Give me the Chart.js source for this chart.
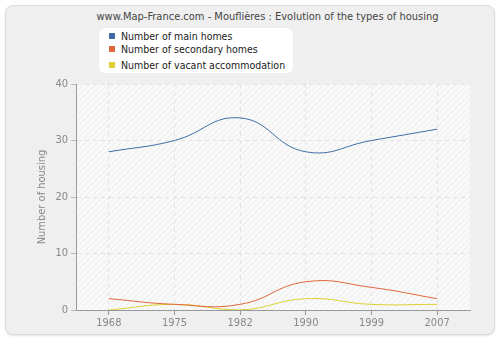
<!DOCTYPE html>
<html>
<head>
<meta charset="utf-8">
<script src="https://cdn.jsdelivr.net/npm/chart.js@4/dist/chart.umd.min.js"></script>
<style>
    body { margin: 0; background: #fff; }
    #wrap { position: relative; width: 500px; height: 340px; font-family: "DejaVu Sans Condensed", "DejaVu Sans", sans-serif; }
    #panel { position: absolute; left: 5px; top: 5px; width: 488px; height: 328px; background: #efefef; border: 1px solid #dcdcdc; border-radius: 8px; box-shadow: 0 1px 2px #e4e4e4; }
    #title { position: absolute; left: 0; width: 535px; top: 10px; text-align: center; font-size: 11px; color: #444; }
    #legend { position: absolute; left: 99px; top: 28px; width: 194px; height: 45px; background: #fff; border-radius: 6px; font-size: 10.5px; color: #222; }
    #legend div { position: absolute; left: 10px; white-space: nowrap; }
    #legend span { display: inline-block; width: 6px; height: 6px; margin-right: 6px; vertical-align: 1px; }
    #trackingCanvas { position: absolute; left: 0; top: 0; }
</style>
</head>
<body>
<div id="wrap">
    <div id="panel"></div>
    <div id="title">www.Map-France.com - Mouflières : Evolution of the types of housing</div>
    <div id="legend"></div>
    <canvas id="trackingCanvas" width="500" height="340"></canvas>
</div>
<script>
const years = ['1968', '1975', '1982', '1990', '1999', '2007'];
const mainHomes = [28, 30, 34, 28, 30, 32];
const secondaryHomes = [2, 1, 1, 5, 4, 2];
const vacantHomes = [0, 1, 0, 2, 1, 1];
const yTicks = [0, 10, 20, 30, 40];

const canvas = document.getElementById('trackingCanvas');
const legendBox = document.getElementById('legend');

const series = [
    {label: 'Number of main homes', color: '#3e6da6', data: mainHomes},
    {label: 'Number of secondary homes', color: '#e0673a', data: secondaryHomes},
    {label: 'Number of vacant accommodation', color: '#ddd032', data: vacantHomes}
];

const legendTops = [2, 15, 31];
series.forEach((s, i) => {
    const row = document.createElement('div');
    row.style.top = legendTops[i] + 'px';
    row.innerHTML = '<span style="background:' + s.color + '"></span>' + s.label;
    legendBox.appendChild(row);
});

// hatched plot background
const makeHatch = () => {
    const p = document.createElement('canvas');
    p.width = 6;
    p.height = 6;
    const c = p.getContext('2d');
    c.fillStyle = '#f9f9f9';
    c.fillRect(0, 0, 6, 6);
    c.strokeStyle = '#ececec';
    c.lineWidth = 1;
    c.beginPath();
    c.moveTo(0, 6); c.lineTo(6, 0);
    c.moveTo(-1, 1); c.lineTo(1, -1);
    c.moveTo(5, 7); c.lineTo(7, 5);
    c.stroke();
    return canvas.getContext('2d').createPattern(p, 'repeat');
};

const plotBackground = {
    id: 'plotBackground',
    beforeDraw: (chart) => {
        const {ctx, chartArea} = chart;
        ctx.save();
        ctx.fillStyle = makeHatch();
        ctx.fillRect(chartArea.left, chartArea.top, chartArea.right - chartArea.left, chartArea.bottom - chartArea.top);
        ctx.restore();
    }
};

const data = {
    labels: years,
    datasets: series.map((s) => ({
        label: s.label,
        data: s.data,
        borderColor: s.color,
        backgroundColor: s.color,
        borderWidth: 1,
        pointRadius: 0,
        tension: 0.45,
        fill: false
    }))
};

const tickFont = {family: 'DejaVu Sans Condensed', size: 11};

const config = {
    type: 'line',
    data,
    options: {
        responsive: false,
        animation: false,
        layout: {padding: {top: 84, right: 30, bottom: 4, left: 36}},
        plugins: {
            legend: {display: false},
            title: {display: false},
            tooltip: {enabled: false}
        },
        scales: {
            x: {
                offset: true,
                grid: {offset: false, color: '#e2e2e2', tickColor: '#999', tickLength: 5, tickBorderDash: []},
                border: {color: '#999', dash: [4, 4]},
                ticks: {color: '#888', font: tickFont, padding: 2, maxRotation: 0},
                afterFit: (scale) => { scale.height = 26; }
            },
            y: {
                min: 0,
                max: 40,
                afterBuildTicks: (scale) => { scale.ticks = yTicks.map((v) => ({value: v})); },
                grid: {color: '#e2e2e2', tickColor: '#bbb', tickLength: 5, tickBorderDash: []},
                border: {color: '#999', dash: [4, 4]},
                ticks: {color: '#888', font: tickFont, padding: 3},
                title: {display: true, text: 'Number of housing', color: '#888', font: tickFont, padding: 0},
                afterFit: (scale) => { scale.width = 40; }
            }
        }
    },
    plugins: [plotBackground]
};

const myChart = new Chart(canvas, config);
</script>
</body>
</html>
